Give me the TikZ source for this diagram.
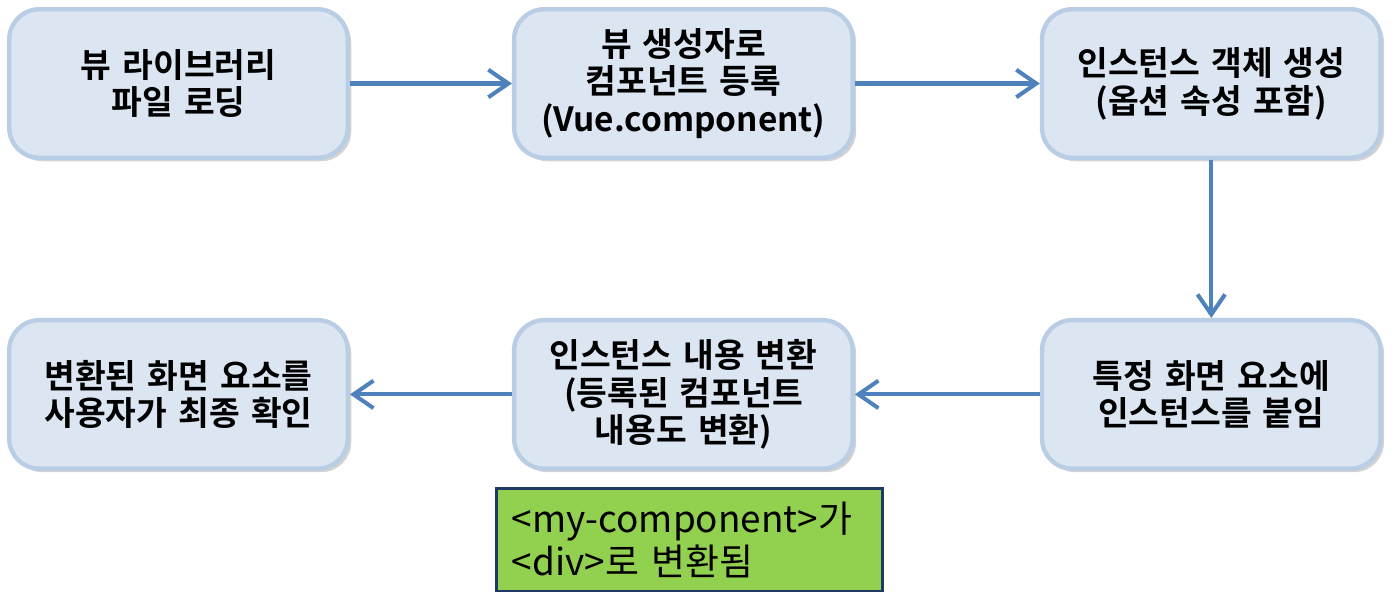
\documentclass[tikz,border=0pt]{standalone}
\usepackage{fontspec}
\setmainfont{Noto Sans CJK KR}[BoldFont={Noto Sans CJK KR Bold}]
\usetikzlibrary{positioning,shadows,arrows.meta}

\definecolor{boxfill}{HTML}{DCE6F2}
\definecolor{boxline}{HTML}{B9CDE5}
\definecolor{flow}{HTML}{4F81BD}
\definecolor{notefill}{HTML}{92D050}
\definecolor{noteline}{HTML}{1F3864}

\tikzstyle{stage}=[rectangle,rounded corners=0.6cm,minimum width=6.77cm,minimum height=2.97cm,text width=6.4cm,align=center,draw=boxline,line width=2.5pt,fill=boxfill,font=\bfseries\fontsize{19}{21.5}\selectfont,drop shadow={shadow xshift=2pt,shadow yshift=-2pt,opacity=0.35}]
\tikzstyle{note}=[rectangle,minimum width=7.72cm,minimum height=2.05cm,text width=7.1cm,align=left,draw=noteline,line width=1.5pt,fill=notefill,font=\fontsize{21}{24.5}\selectfont]
\tikzstyle{link}=[flow,line width=2.3pt,-{Straight Barb[length=4mm,width=5.5mm]}]

\begin{document}
\begin{tikzpicture}
\useasboundingbox (0,0) rectangle (27.96,-12.14);
\node(load)[stage] at (3.57,-1.67){뷰 라이브러리\\파일 로딩};
\node(register)[stage,right=3.24cm of load]{뷰 생성자로\\컴포넌트 등록\\(Vue.component)};
\node(create)[stage,right=3.7cm of register]{인스턴스 객체 생성\\(옵션 속성 포함)};
\node(attach)[stage,below=3.16cm of create]{특정 화면 요소에\\인스턴스를 붙임};
\node(convert)[stage,below=3.16cm of register]{인스턴스 내용 변환\\(등록된 컴포넌트\\내용도 변환)};
\node(confirm)[stage,below=3.16cm of load]{변환된 화면 요소를\\사용자가 최종 확인};
\node(tagnote)[note,below=0.33cm of convert,xshift=0.12cm]{<my-component>가\\<div>로 변환됨};
\draw[link](load)--(register);
\draw[link](register)--(create);
\draw[link](create)--(attach);
\draw[link](attach)--(convert);
\draw[link](convert)--(confirm);
\end{tikzpicture}
\end{document}
